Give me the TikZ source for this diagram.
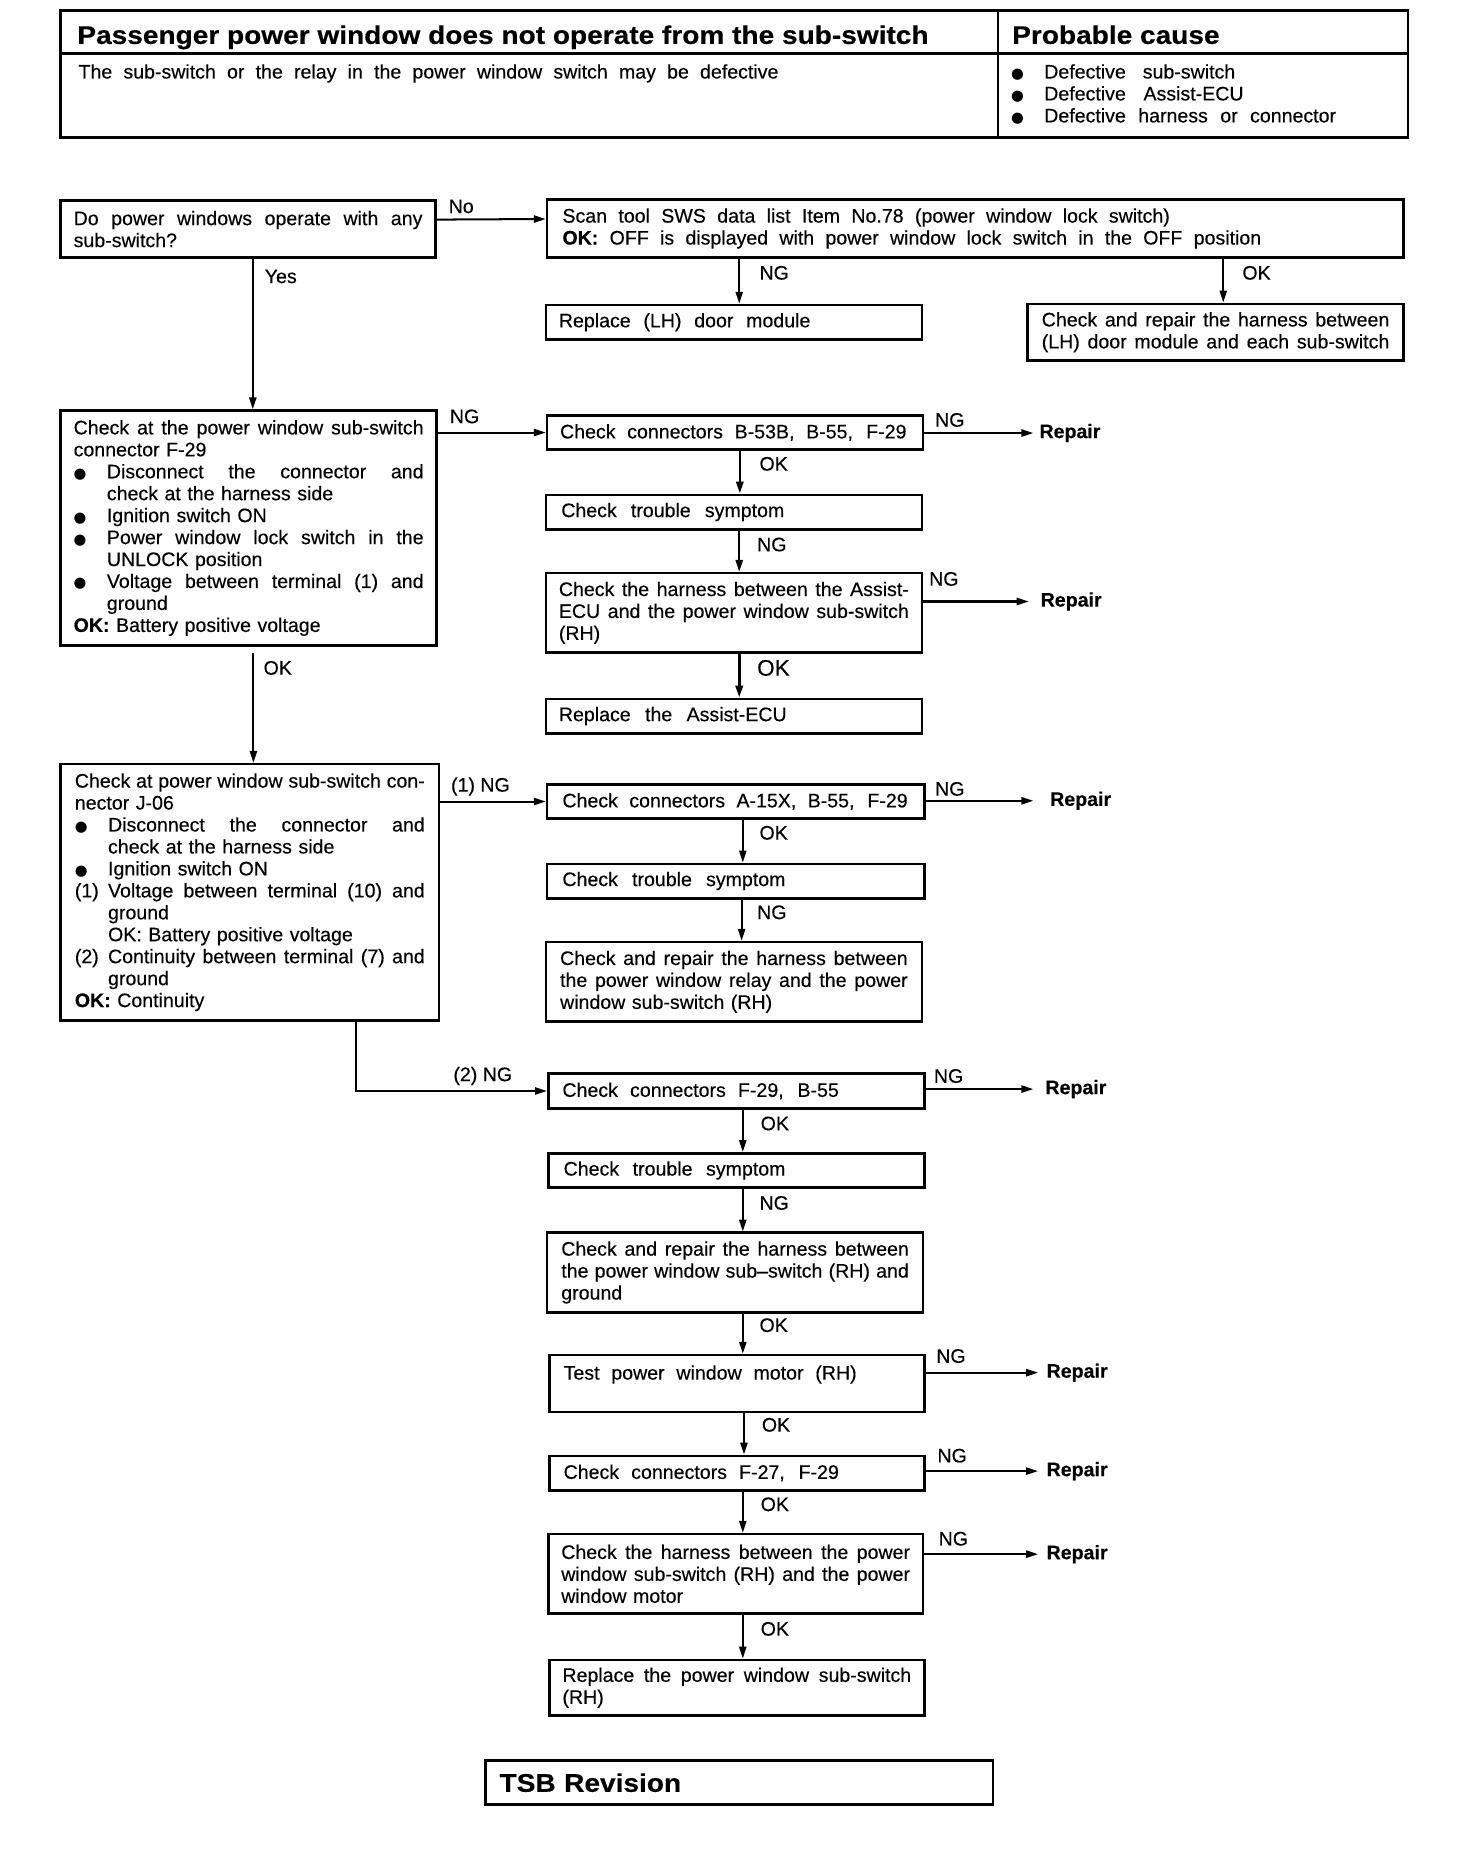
\documentclass[tikz,border=0pt]{standalone}
\usepackage{fontspec}
\setmainfont{Liberation Sans}[FakeBold=0.3]
\newfontfamily\wfont{Liberation Sans}[FakeStretch=1.1,FakeBold=0.4]
\newfontfamily\djv{DejaVu Sans}
\usepackage{graphicx}
\usetikzlibrary{arrows.meta}
\setlength{\parindent}{0pt}
\newcommand\body{\fontsize{16.5}{18.5}\selectfont}
\newcommand\tfont{\wfont\bfseries\fontsize{21.5}{24}\selectfont}
\newcommand\fl[1]{\makebox[\hsize][s]{\spaceskip=0pt\xspaceskip=0pt #1}}
\newcommand\wl[2]{\makebox[#1pt][s]{\spaceskip=0pt\xspaceskip=0pt #2}}
\newcommand\bul{\makebox[28pt][l]{{\djv\scalebox{0.75}{●}}}}
\newcommand\ind{\hspace*{28pt}}
\newcommand\lab[1]{\makebox[28pt][l]{#1}}
\begin{document}
\begin{tikzpicture}[x=1pt,y=-1pt,
  box/.style={draw, line width=2.2pt, rectangle, anchor=north west, inner xsep=11pt, inner ysep=0pt, align=left, font=\body},
  cell/.style={draw, line width=2pt, rectangle, anchor=north west, inner sep=0pt},
  txt/.style={inner sep=0pt, font=\body, align=left},
  lbl/.style={inner sep=0pt, anchor=west, font=\body},
  rep/.style={inner sep=0pt, anchor=west, font=\body\bfseries},
  arr/.style={line width=1.7pt, -{Triangle[length=10pt,width=6pt]}},
  ln/.style={line width=1.7pt}]
\useasboundingbox (0,0) rectangle (1227.6,1567.8);

% ---------- top table ----------
\node[cell, minimum width=790pt, minimum height=36pt] (T1) at (50,8) {};
\node[cell, minimum width=346pt, minimum height=36pt] (T2) at (840,8) {};
\node[cell, minimum width=790pt, minimum height=71pt] (T3) at (50,44) {};
\node[cell, minimum width=346pt, minimum height=71pt] (T4) at (840,44) {};
\node[inner sep=0pt, anchor=base west, font=\tfont] (t1) at ([xshift=15pt,yshift=9pt]T1.south west) {Passenger power window does not operate from the sub-switch};
\node[inner sep=0pt, anchor=base west, font=\tfont] (t2) at ([xshift=13pt,yshift=9pt]T2.south west) {Probable cause};
\node[txt, anchor=north west] (t3) at ([xshift=16pt,yshift=-10pt]T3.north west) {\wl{590}{The sub-switch or the relay in the power window switch may be defective}};
\node[txt, anchor=north west] (t4) at ([xshift=12pt,yshift=-10pt]T4.north west) {\bul\wl{161}{Defective sub-switch}\\ \bul\wl{168}{Defective Assist-ECU}\\ \bul\wl{246}{Defective harness or connector}};

% ---------- boxes ----------
\node[box, text width=294pt, minimum height=48pt] (B1) at (50,168) {\fl{Do power windows operate with any}\\ sub-switch?};
\node[box, inner xsep=13pt, text width=696pt, minimum height=49pt] (B2) at (460,167) {\wl{512}{Scan tool SWS data list Item No.78 (power window lock switch)}\\ \wl{589}{\textbf{OK:} OFF is displayed with power window lock switch in the OFF position}};
\node[box, text width=295pt, minimum height=29pt] (B3) at (459,256) {\wl{212}{Replace (LH) door module}};
\node[box, inner xsep=12pt, text width=293pt, minimum height=48pt] (B4) at (865,255) {\fl{Check and repair the harness between}\\ \fl{(LH) door module and each sub-switch}};

\node[box, text width=295pt, minimum height=198pt] (B5) at (50,345) {\fl{Check at the power window sub-switch}\\
connector F-29\\
\fl{\bul Disconnect the connector and}\\
\ind check at the harness side\\
\bul Ignition switch ON\\
\fl{\bul Power window lock switch in the}\\
\ind UNLOCK position\\
\fl{\bul Voltage between terminal (1) and}\\
\ind ground\\
\textbf{OK:} Battery positive voltage};

\node[box, text width=295pt, minimum height=29pt] (B6) at (460,349) {\wl{292}{Check connectors B-53B, B-55, F-29}};
\node[box, inner xsep=13pt, text width=291pt, minimum height=29pt] (B7) at (459,416) {\wl{188}{Check trouble symptom}};
\node[box, text width=295pt, minimum height=67pt] (B8) at (459,482) {\fl{Check the harness between the Assist-}\\ \fl{ECU and the power window sub-switch}\\ (RH)};
\node[box, text width=295pt, minimum height=29pt] (B9) at (459,588) {\wl{192}{Replace the Assist-ECU}};

\node[box, inner xsep=12pt, text width=295pt, minimum height=216pt] (B10) at (50,643) {\fl{Check at power window sub-switch con-}\\
nector J-06\\
\fl{\bul Disconnect the connector and}\\
\ind check at the harness side\\
\bul Ignition switch ON\\
\fl{\lab{(1)}Voltage between terminal (10) and}\\
\ind ground\\
\ind OK: Battery positive voltage\\
\fl{\lab{(2)}Continuity between terminal (7) and}\\
\ind ground\\
\textbf{OK:} Continuity};

\node[box, inner xsep=13pt, text width=292pt, minimum height=29pt] (B11) at (460,660) {\wl{291}{Check connectors A-15X, B-55, F-29}};
\node[box, inner xsep=13pt, text width=292pt, minimum height=29pt] (B12) at (460,727) {\wl{188}{Check trouble symptom}};
\node[box, inner xsep=12pt, text width=293pt, minimum height=67pt] (B13) at (459,793) {\fl{Check and repair the harness between}\\ \fl{the power window relay and the power}\\ window sub-switch (RH)};

\node[box, inner xsep=12pt, text width=293pt, minimum height=29pt] (B14) at (461,904) {\wl{233}{Check connectors F-29, B-55}};
\node[box, inner xsep=13pt, text width=291pt, minimum height=29pt] (B15) at (461,971) {\wl{187}{Check trouble symptom}};
\node[box, inner xsep=12pt, text width=293pt, minimum height=67pt] (B16) at (460,1038) {\fl{Check and repair the harness between}\\ \fl{the power window sub--switch (RH) and}\\ ground};
\node[box, inner xsep=12pt, text width=292pt, minimum height=48pt] (B17) at (462,1141) {\wl{247}{Test power window motor (RH)}\\ \mbox{}};
\node[box, inner xsep=12pt, text width=292pt, minimum height=29pt] (B18) at (462,1226) {\wl{232}{Check connectors F-27, F-29}};
\node[box, text width=294pt, minimum height=67pt] (B19) at (461,1292) {\fl{Check the harness between the power}\\ \fl{window sub-switch (RH) and the power}\\ window motor};
\node[box, text width=294pt, minimum height=47pt] (B20) at (462,1398) {\fl{Replace the power window sub-switch}\\ (RH)};

\node[box, inner xsep=12pt, text width=404pt, minimum height=37pt, font=\tfont] (TSB) at (408,1483) {TSB Revision};

% ---------- Repair nodes ----------
\node[rep] (R1) at (876,365) {Repair};
\node[rep] (R2) at (877,507) {Repair};
\node[rep] (R3) at (885,675) {Repair};
\node[rep] (R4) at (881,918) {Repair};
\node[rep] (R5) at (882,1157) {Repair};
\node[rep] (R6) at (882,1240) {Repair};
\node[rep] (R7) at (882,1310) {Repair};

% ---------- connectors ----------
\draw[arr] ([yshift=8pt]B1.east) -- ([yshift=8pt]B2.west);
\draw[arr] ([xshift=4.5pt]B3.north |- B2.south) -- ([xshift=4.5pt]B3.north);
\draw[arr] ([xshift=6.5pt]B4.north |- B2.south) -- ([xshift=6.5pt]B4.north);
\draw[arr] ([xshift=4pt]B1.south) -- ([xshift=4pt]B1.south |- B5.north);

\draw[arr] (B5.east |- B6.west) -- (B6.west);
\draw[arr] (B6.east |- R1.west) -- ([xshift=-5pt]R1.west);
\draw[arr, line width=2.2pt] ([xshift=5pt]B7.north |- B6.south) -- ([xshift=5pt]B7.north);
\draw[arr] ([xshift=4.5pt]B8.north |- B7.south) -- ([xshift=4.5pt]B8.north);
\draw[arr] (B8.east |- R2.west) -- ([xshift=-10pt]R2.west);
\draw[arr, line width=2.4pt] ([xshift=4.5pt]B9.north |- B8.south) -- ([xshift=4.5pt]B9.north);

\draw[arr] ([xshift=4pt,yshift=-5pt]B5.south) -- ([xshift=4pt]B5.south |- B10.north);
\draw[arr] (B10.east |- B11.west) -- (B11.west);
\draw[arr] (B11.east |- R3.west) -- ([xshift=-14pt]R3.west);
\draw[arr] ([xshift=6pt]B12.north |- B11.south) -- ([xshift=6pt]B12.north);
\draw[arr] ([xshift=6.5pt]B13.north |- B12.south) -- ([xshift=6.5pt]B13.north);

\draw[arr] ([xshift=250pt]B10.south west) |- (B14.west);
\draw[arr] (B14.east |- R4.west) -- ([xshift=-10pt]R4.west);
\draw[arr] ([xshift=5.5pt]B15.north |- B14.south) -- ([xshift=5.5pt]B15.north);
\draw[arr] ([xshift=6.5pt]B16.north |- B15.south) -- ([xshift=6.5pt]B16.north);
\draw[arr] ([xshift=5pt]B17.north |- B16.south) -- ([xshift=5pt]B17.north);
\draw[arr] (B17.east |- R5.west) -- ([xshift=-7pt]R5.west);
\draw[arr] ([xshift=6pt]B18.north |- B17.south) -- ([xshift=6pt]B18.north);
\draw[arr] (B18.east |- R6.west) -- ([xshift=-7pt]R6.west);
\draw[arr] ([xshift=6pt]B19.north |- B18.south) -- ([xshift=6pt]B19.north);
\draw[arr] (B19.east |- R7.west) -- ([xshift=-7pt]R7.west);
\draw[arr] ([xshift=5pt]B20.north |- B19.south) -- ([xshift=5pt]B20.north);

% ---------- labels ----------
\node[lbl] (l1) at (378,174) {No};
\node[lbl] (l2) at (223,233) {Yes};
\node[lbl] (l3) at (640,230) {NG};
\node[lbl] (l4) at (1047,230) {OK};
\node[lbl] (l5) at (379,351) {NG};
\node[lbl] (l6) at (788,354) {NG};
\node[lbl] (l7) at (640,391) {OK};
\node[lbl] (l8) at (638,459) {NG};
\node[lbl] (l9) at (783,488) {NG};
\node[lbl, font=\fontsize{19}{20}\selectfont] (l10) at (638,563) {OK};
\node[lbl] (l11) at (222,563) {OK};
\node[lbl] (l12) at (380,663) {(1) NG};
\node[lbl] (l13) at (788,665) {NG};
\node[lbl] (l14) at (640,702) {OK};
\node[lbl] (l15) at (638,769) {NG};
\node[lbl] (l16) at (382,907) {(2) NG};
\node[lbl] (l17) at (787,907) {NG};
\node[lbl] (l18) at (641,947) {OK};
\node[lbl] (l19) at (640,1014) {NG};
\node[lbl] (l20) at (640,1117) {OK};
\node[lbl] (l21) at (789,1143) {NG};
\node[lbl] (l22) at (642,1201) {OK};
\node[lbl] (l23) at (790,1227) {NG};
\node[lbl] (l24) at (641,1268) {OK};
\node[lbl] (l25) at (791,1297) {NG};
\node[lbl] (l26) at (641,1373) {OK};
\end{tikzpicture}
\end{document}
